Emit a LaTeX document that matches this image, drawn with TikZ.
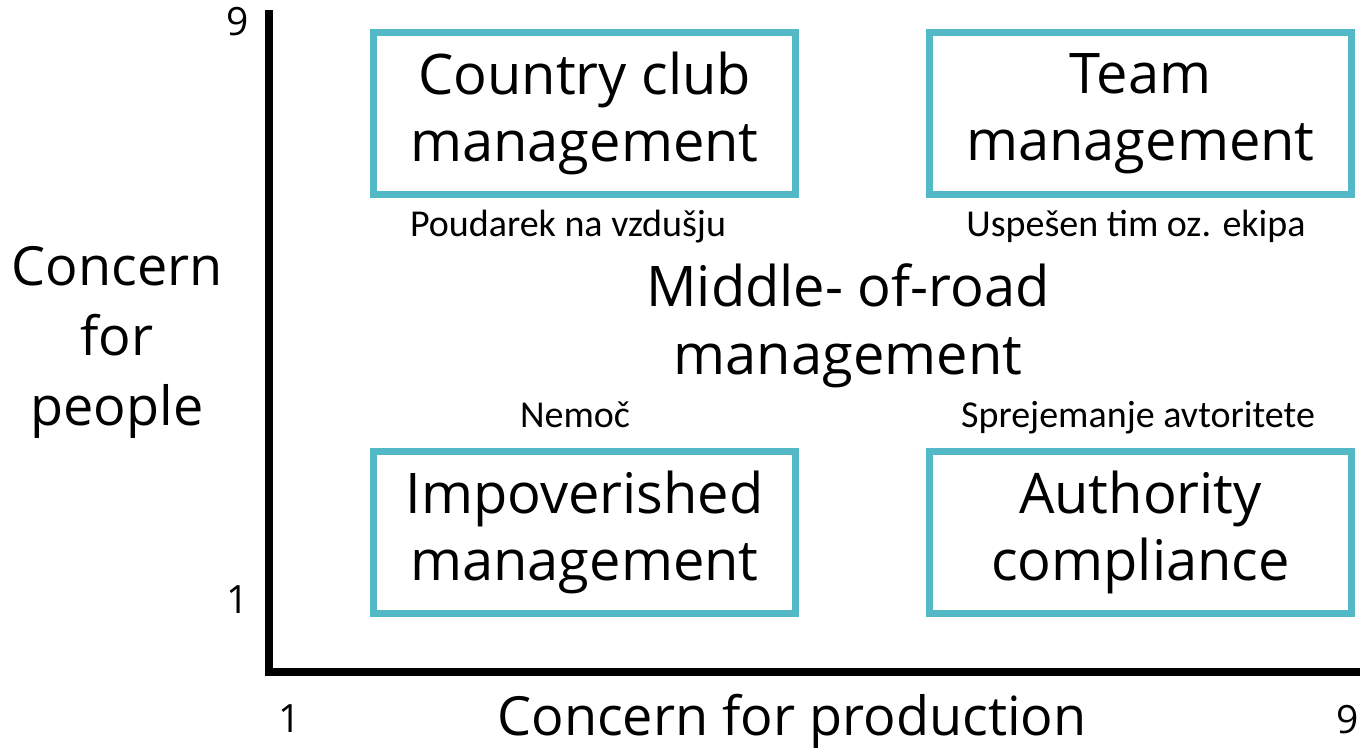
\documentclass[tikz,border=0pt]{standalone}
\usepackage{fontspec}
\setmainfont{Open Sans}
\newfontfamily\lblfont{Carlito}
\definecolor{boxteal}{RGB}{84,185,199}
\begin{document}
\begin{tikzpicture}[x=1pt,y=-1pt,
  quad/.style={draw=boxteal, line width=7pt, minimum width=422pt, minimum height=162pt,
    inner sep=0pt, align=center, font=\fontsize{56}{67}\selectfont},
  big/.style={inner sep=0pt, align=center, font=\fontsize{56}{68}\selectfont},
  axislabel/.style={inner sep=0pt, align=center, font=\fontsize{54}{70}\selectfont},
  note/.style={inner sep=0pt, anchor=base, font=\lblfont\fontsize{38}{44}\selectfont},
  tick/.style={inner sep=0pt, font=\fontsize{39}{44}\selectfont},
  axisline/.style={line width=8pt, line join=miter}]
\useasboundingbox (0,0) rectangle (1360,750);
\fill[white] (0,0) rectangle (1360,750);

% axes
\coordinate (ytop) at (269,10);
\coordinate (origin) at (269,672);
\coordinate (xend) at (1362,672);
\draw[axisline] (ytop) -- (origin) -- (xend);

% quadrant boxes
\node[quad] (cc) at (584.5,113.5) {Country club\\management};
\node[quad] (team) at (1140.5,113.5) {Team\\management};
\node[quad] (imp) at (584.5,532) {Impoverished\\management};
\node[quad] (auth) at (1140.5,532) {Authority\\compliance};

% middle
\node[big] (mid) at (848,326) {Middle- of-road\\management};

% notes
\node[note] (n1) at (568,236) {Poudarek na vzdušju};
\node[note] (n2) at (1136,236) {Uspešen tim oz. ekipa};
\node[note] (n3) at (575,427) {Nemoč};
\node[note] (n4) at (1138,427) {Sprejemanje avtoritete};

% axis labels
\node[axislabel] (ylab) at (117,342) {Concern\\for\\people};
\node[axislabel, anchor=base] (xlab) at (792,735) {Concern for production};

% ticks
\node[tick] (y9) at (238,22) {9};
\node[tick] (y1) at (238,600) {1};
\node[tick] (x1) at (290,719) {1};
\node[tick, anchor=east] (x9) at (1359,720) {9};
\end{tikzpicture}
\end{document}
